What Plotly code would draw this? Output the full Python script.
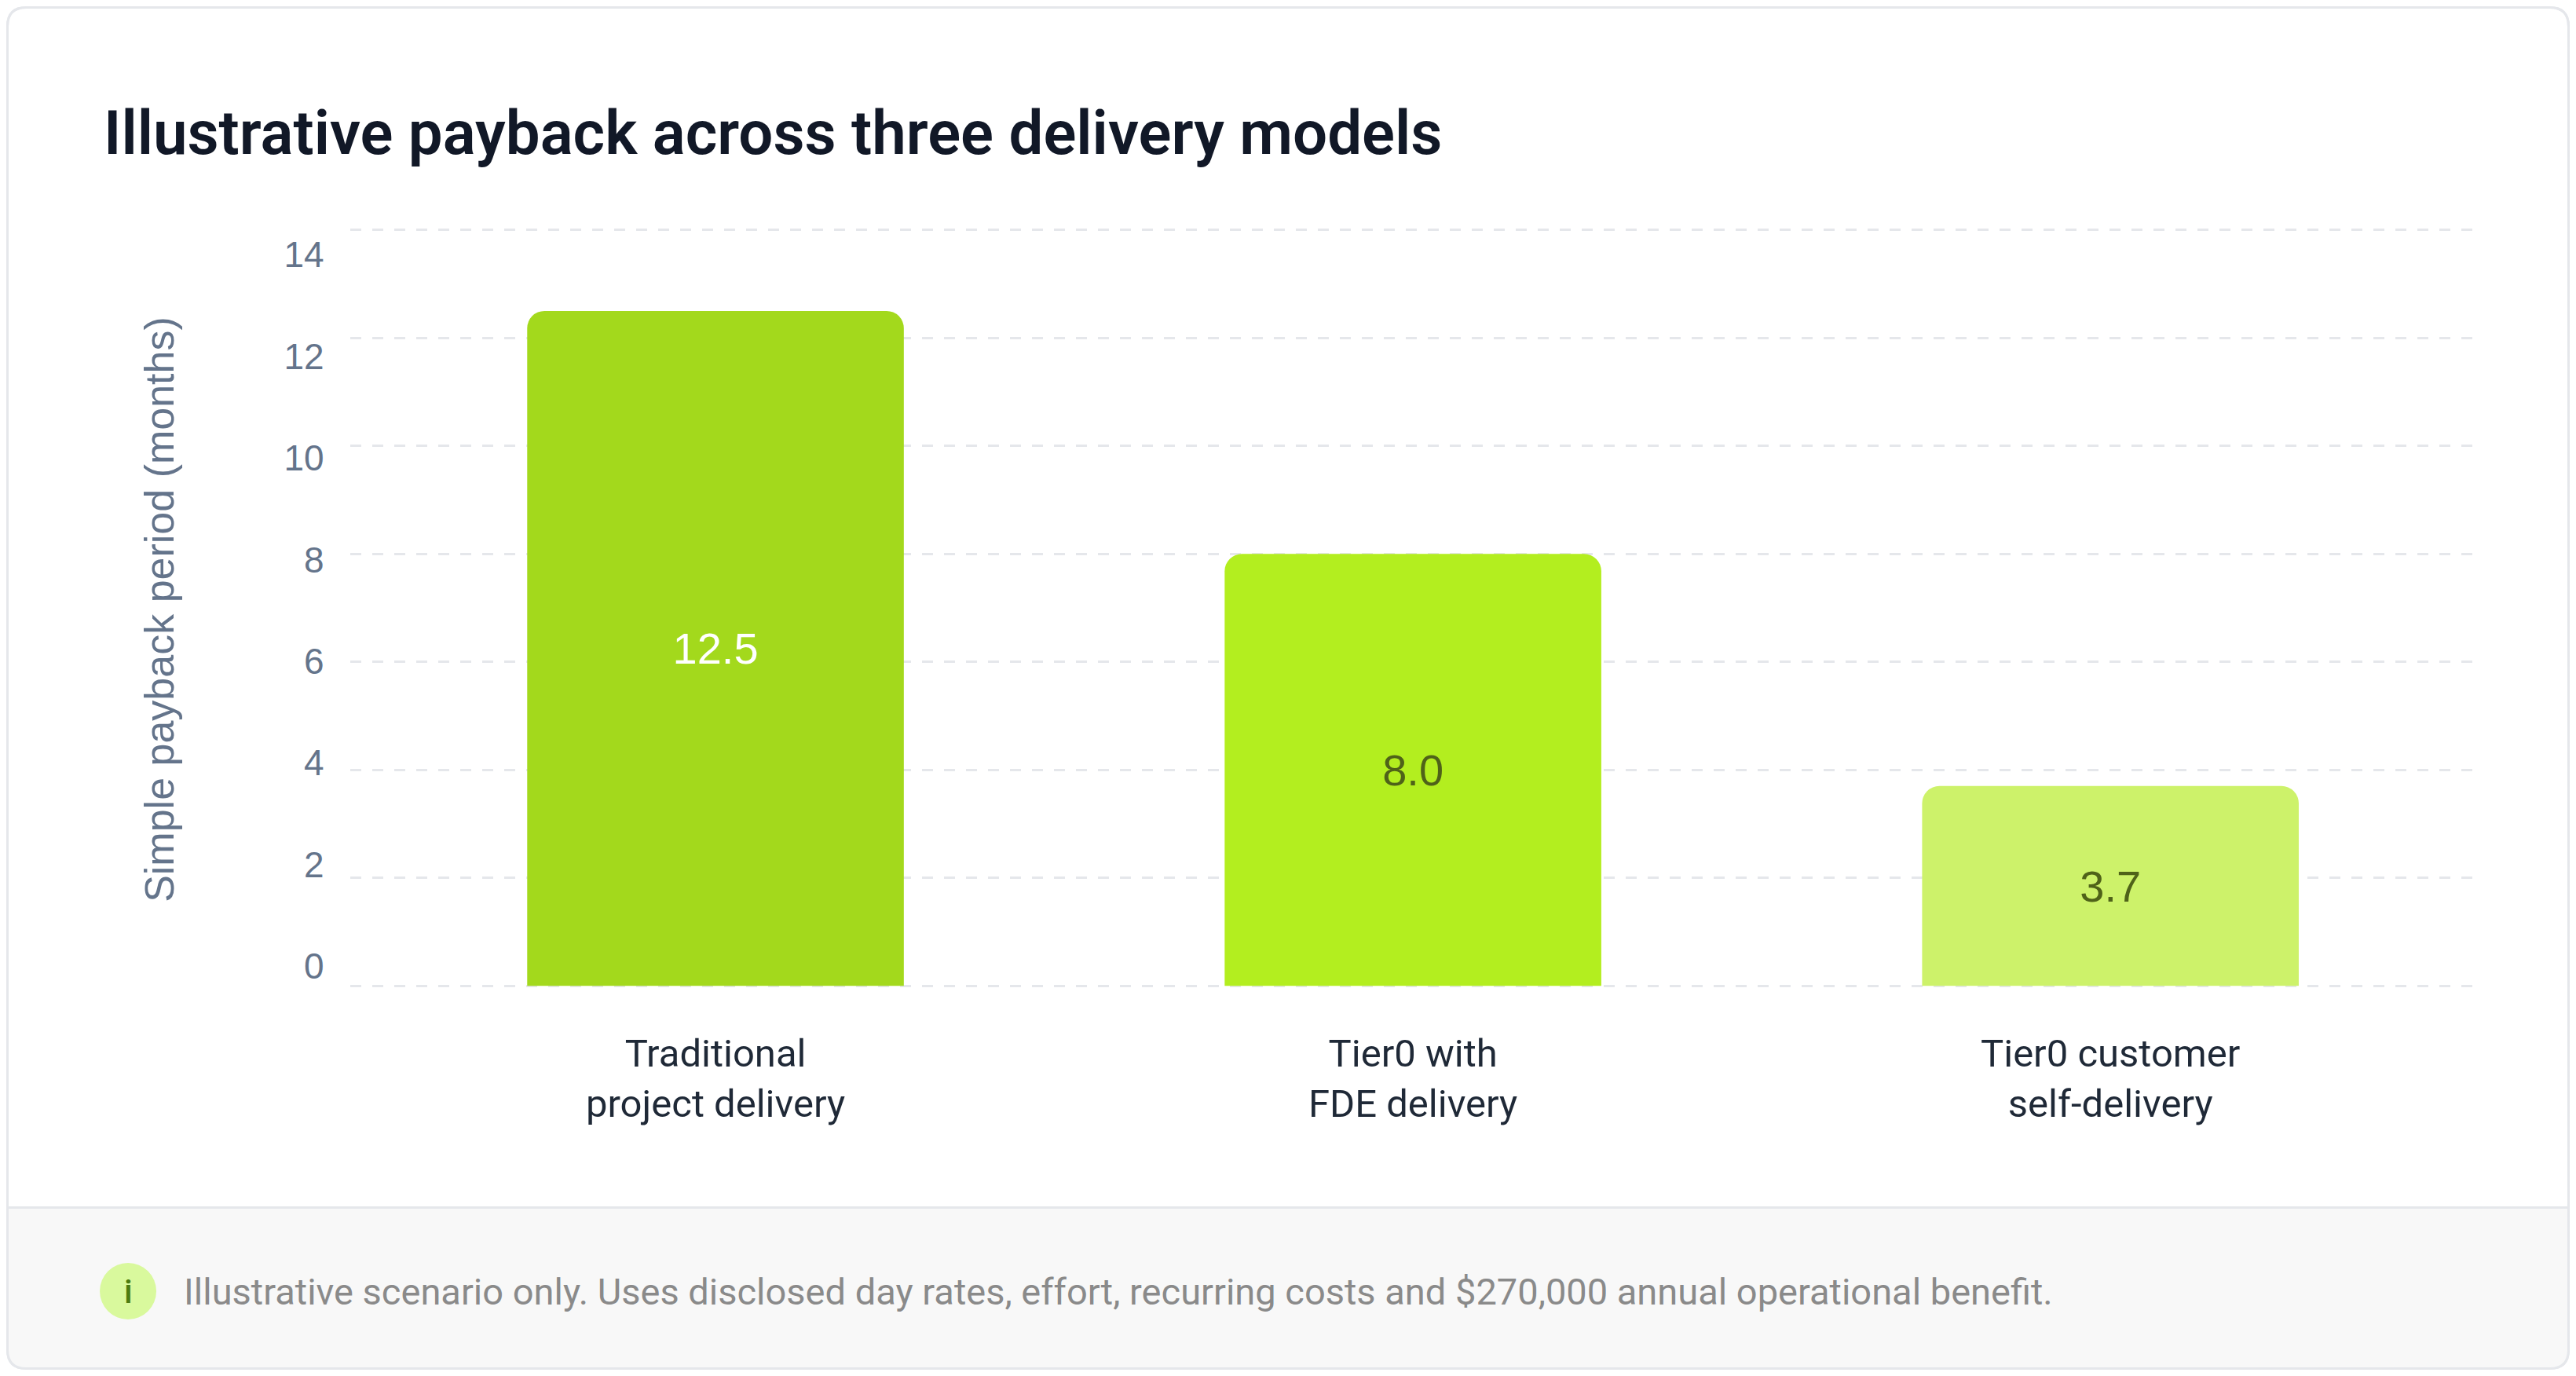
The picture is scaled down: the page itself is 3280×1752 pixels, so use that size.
import plotly.graph_objects as go

categories = ['Traditional<br>project delivery', 'Tier0 with<br>FDE delivery', 'Tier0 customer<br>self-delivery']
payback_months = [12.5, 8.0, 3.7]
bar_colors = ['#a3d91c', '#b3ee1f', '#cdf26a']
label_colors = ['#ffffff', '#4f6219', '#4f6219']
ytick_vals = [0, 2, 4, 6, 8, 10, 12, 14]

title = 'Illustrative payback across three delivery models'
y_title = 'Simple payback period (months)'
note = 'Illustrative scenario only. Uses disclosed day rates, effort, recurring costs and $270,000 annual operational benefit.'

SLATE = '#64748b'
INK = '#111827'
BORDER = '#e5e7eb'

fig = go.Figure()
fig.add_trace(go.Bar(
    x=categories,
    y=payback_months,
    width=0.54,
    marker=dict(color=bar_colors, cornerradius=22, line=dict(width=0)),
    texttemplate='%{y:.1f}',
    textposition='inside',
    insidetextanchor='middle',
    constraintext='none',
    textangle=0,
    textfont=dict(family='Liberation Sans, Arial', size=56, color=label_colors),
    hoverinfo='skip',
    showlegend=False,
))
# invisible trace so the label axis gets drawn
fig.add_trace(go.Scatter(
    x=categories, y=payback_months, yaxis='y2',
    mode='markers', marker=dict(opacity=0),
    hoverinfo='skip', showlegend=False,
))

fig.update_layout(
    margin=dict(l=0, r=0, t=0, b=0),
    paper_bgcolor='rgba(0,0,0,0)',
    plot_bgcolor='rgba(0,0,0,0)',
    font=dict(family='Roboto, Noto Sans, sans-serif', color=INK),
    xaxis=dict(
        domain=[0.1341, 0.9634],
        range=[-0.524, 2.524],
        showgrid=False, zeroline=False, showline=False,
        ticks='', ticklabelstandoff=46,
        tickfont=dict(family='Roboto, Noto Sans, sans-serif', size=49, color='#1f2937'),
        fixedrange=True,
    ),
    yaxis=dict(
        domain=[0.2776, 0.8399],
        range=[-0.1, 14.1],
        tickvals=ytick_vals,
        showticklabels=False,
        showgrid=True, gridcolor=BORDER, gridwidth=3, griddash='14px,14px',
        zeroline=False, showline=False, ticks='',
        fixedrange=True,
    ),
    yaxis2=dict(
        overlaying='y',
        side='left',
        range=[-0.495, 14.592],
        tickvals=ytick_vals,
        showgrid=False, zeroline=False, showline=False, ticks='',
        ticklabelstandoff=32,
        tickfont=dict(family='Liberation Sans, Arial', size=46, color=SLATE),
        fixedrange=True,
    ),
    hovermode=False,
)

# card border and footer band
rx, ry = 24 / 3264, 24 / 1736
ex, ey = 1.5 / 3264, 1.5 / 1736
x0, x1, y0, y1 = ex, 1 - ex, ey, 1 - ey
card = (f'M {x0 + rx},{y1} L {x1 - rx},{y1} Q {x1},{y1} {x1},{y1 - ry} '
        f'L {x1},{y0 + ry} Q {x1},{y0} {x1 - rx},{y0} L {x0 + rx},{y0} '
        f'Q {x0},{y0} {x0},{y0 + ry} L {x0},{y1 - ry} Q {x0},{y1} {x0 + rx},{y1} Z')
fy = 0.1189
footer = (f'M {x0},{fy} L {x1},{fy} L {x1},{y0 + ry} Q {x1},{y0} {x1 - rx},{y0} '
          f'L {x0 + rx},{y0} Q {x0},{y0} {x0},{y0 + ry} Z')
fig.add_shape(type='path', path=card, xref='paper', yref='paper',
              fillcolor='#ffffff', line=dict(color=BORDER, width=3), layer='below')
fig.add_shape(type='path', path=footer, xref='paper', yref='paper',
              fillcolor='#f8f8f8', line=dict(width=0), layer='below')
fig.add_shape(type='line', xref='paper', yref='paper', x0=x0, x1=x1, y0=fy, y1=fy,
              line=dict(color=BORDER, width=3), layer='below')
fig.add_shape(type='path', path=card, xref='paper', yref='paper',
              fillcolor='rgba(0,0,0,0)', line=dict(color=BORDER, width=3), layer='above')

# info icon
fig.add_shape(type='circle', xref='paper', yref='paper',
              xsizemode='pixel', ysizemode='pixel',
              xanchor=0.0475, yanchor=0.0576, x0=-36, x1=36, y0=-36, y1=36,
              fillcolor='#d9f99d', line=dict(width=0))
fig.add_annotation(x=0.0475, y=0.0576, xref='paper', yref='paper', text='i', showarrow=False,
                   font=dict(family='Roboto, sans-serif', size=42, color='#4d7c0f', weight=500),
                   xanchor='center', yanchor='middle')

fig.add_annotation(x=0.0687, y=0.0576, xref='paper', yref='paper', text=note, showarrow=False,
                   font=dict(family='Roboto, Noto Sans, sans-serif', size=47, color='#8a8a8a'),
                   xanchor='left', yanchor='middle')

fig.add_annotation(x=0.0373, y=0.907, xref='paper', yref='paper', text=title, showarrow=False,
                   font=dict(family='Roboto, Noto Sans, sans-serif', size=78, color=INK, weight=600),
                   xanchor='left', yanchor='middle')

fig.add_annotation(x=0.0597, y=0.5576, xref='paper', yref='paper', text=y_title, showarrow=False,
                   textangle=-90,
                   font=dict(family='Liberation Sans, Arial', size=52, color=SLATE),
                   xanchor='center', yanchor='middle')

fig.write_html("out.html")
